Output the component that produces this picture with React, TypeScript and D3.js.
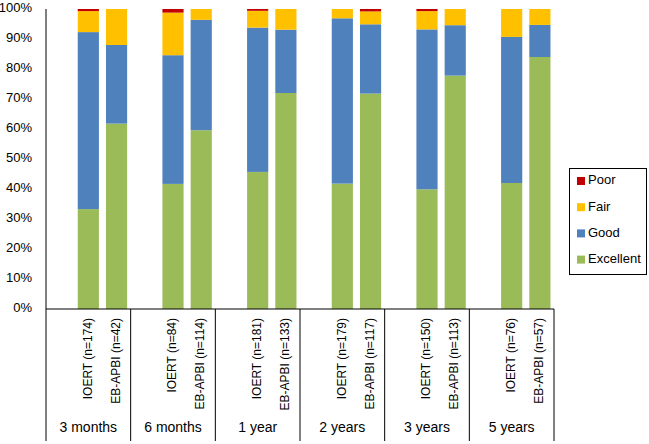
import React from "react";
import * as d3 from "d3";

const groups = ["3 months", "6 months", "1 year", "2 years", "3 years", "5 years"];
const armLabels = [
  ["IOERT (n=174)", "EB-APBI (n=42)"],
  ["IOERT (n=84)", "EB-APBI (n=114)"],
  ["IOERT (n=181)", "EB-APBI (n=133)"],
  ["IOERT (n=179)", "EB-APBI (n=117)"],
  ["IOERT (n=150)", "EB-APBI (n=113)"],
  ["IOERT (n=76)", "EB-APBI (n=57)"],
];
const seriesNames = ["Excellent", "Good", "Fair", "Poor"];
// percentages per bar (IOERT, EB-APBI per group)
const excellent = [33.3, 61.8, 41.7, 59.6, 45.7, 72.0, 41.8, 71.8, 39.9, 77.8, 42.0, 84.0];
const good = [59.0, 26.2, 42.9, 36.8, 48.1, 21.1, 55.1, 23.1, 53.3, 16.8, 48.7, 10.7];
const fair = [7.0, 12.0, 14.2, 3.6, 5.6, 6.9, 3.1, 4.3, 6.1, 5.4, 9.3, 5.3];
const poor = [0.7, 0, 1.2, 0, 0.6, 0, 0, 0.8, 0.7, 0, 0, 0];
const yTicks = [0, 10, 20, 30, 40, 50, 60, 70, 80, 90, 100];

const colors: Record<string, string> = {
  Excellent: "#9BBB59",
  Good: "#4F81BD",
  Fair: "#FFC000",
  Poor: "#C00000",
};

export default function App() {
  const W = 649, H = 444;
  const left = 46, right = 554, top = 9, bottom = 309;
  const font = "'Liberation Sans', Arial, sans-serif";

  const x0 = d3.scaleBand<string>().domain(groups).range([left, right]).paddingInner(0).paddingOuter(0);
  const x1 = d3.scaleBand<string>().domain(["blank", "IOERT", "EB-APBI"]).range([0, x0.bandwidth()]).paddingInner(0.25).paddingOuter(0.125);
  const y = d3.scaleLinear().domain([0, 100]).range([bottom, top]);

  const rows = excellent.map((_, i) => ({
    Excellent: excellent[i], Good: good[i], Fair: fair[i], Poor: poor[i], i,
  }));
  const stack = d3.stack<any>().keys(seriesNames);
  const stacked = stack(rows);
  const arms = ["IOERT", "EB-APBI"];

  const barX = (i: number) => {
    const g = groups[Math.floor(i / 2)];
    const a = arms[i % 2];
    return (x0(g) as number) + (x1(a) as number);
  };
  const bw = x1.bandwidth();

  return (
    <svg width={W} height={H} style={{ position: "absolute", left: 0, top: 0, background: "#fff" }} fontFamily={font}>
      {stacked.map((s) => (
        <g key={s.key} fill={colors[s.key]}>
          {s.map((d, i) => {
            const v = Math.min(d[1], 100);
            const h = y(d[0]) - y(v);
            if (h <= 0) return null;
            return <rect key={i} x={barX(i)} y={y(v)} width={bw} height={h} />;
          })}
        </g>
      ))}
      {/* y axis */}
      <line x1={left} x2={left} y1={top} y2={bottom} stroke="#000" strokeWidth={1} />
      {yTicks.map((t) => (
        <text key={t} x={32} y={y(t)} textAnchor="end" dominantBaseline="middle" fontSize={13} fill="#000">
          {t}%
        </text>
      ))}
      {/* x axis */}
      <line x1={left} x2={right} y1={bottom} y2={bottom} stroke="#000" strokeWidth={1} />
      {[...groups.map((g) => x0(g) as number), right].map((xv, i) => (
        <line key={i} x1={xv} x2={xv} y1={bottom} y2={441} stroke="#000" strokeWidth={1} />
      ))}
      {excellent.map((_, i) => {
        const cx = barX(i) + bw / 2;
        return (
          <text key={i} transform={`translate(${cx},318) rotate(-90)`} textAnchor="end" dominantBaseline="middle" fontSize={12} fill="#000">
            {armLabels[Math.floor(i / 2)][i % 2]}
          </text>
        );
      })}
      {groups.map((g) => (
        <text key={g} x={(x0(g) as number) + x0.bandwidth() / 2} y={428} textAnchor="middle" dominantBaseline="middle" fontSize={14} fill="#000">
          {g}
        </text>
      ))}
      {/* legend */}
      <rect x={569.5} y={168.5} width={77} height={106} fill="#fff" stroke="#000" strokeWidth={1} />
      {[...seriesNames].reverse().map((n, i) => (
        <g key={n}>
          <rect x={577} y={177 + i * 26.2} width={8} height={8} fill={colors[n]} />
          <text x={588} y={181 + i * 26.2} dominantBaseline="middle" fontSize={13} fill="#000">
            {n}
          </text>
        </g>
      ))}
    </svg>
  );
}
